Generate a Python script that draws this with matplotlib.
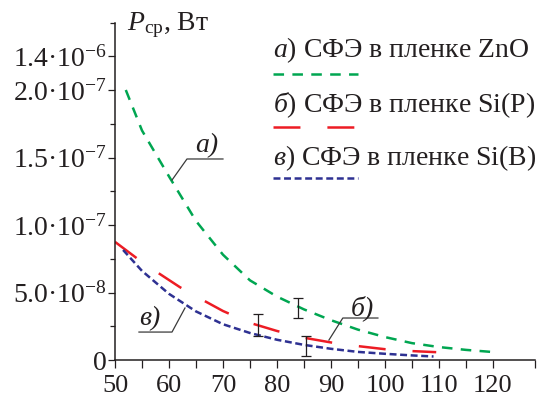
import matplotlib
matplotlib.use("Agg")
import matplotlib.pyplot as plt
from matplotlib.lines import Line2D
from matplotlib.ticker import FixedLocator

plt.rcParams['font.family'] = ['Liberation Serif', 'DejaVu Serif']
plt.rcParams['mathtext.fontset'] = 'custom'
plt.rcParams['mathtext.rm'] = 'Liberation Serif'
plt.rcParams['mathtext.it'] = 'Liberation Serif:italic'
plt.rcParams['mathtext.bf'] = 'Liberation Serif:bold'
plt.rcParams['lines.scale_dashes'] = False

# ---- data ----
x_zno = [52, 55, 60, 65, 70, 75, 80, 85, 90, 95, 100, 105, 110, 115, 120]
y_zno = [2.00e-7, 1.70e-7, 1.36e-7, 1.03e-7, 7.8e-8, 5.9e-8, 4.7e-8, 3.75e-8,
         2.95e-8, 2.25e-8, 1.7e-8, 1.25e-8, 9.6e-9, 7.5e-9, 5.9e-9]

x_sip = [50, 54, 58, 62, 66, 70, 75, 80, 85, 90, 95, 100, 105, 109.5]
y_sip = [8.75e-8, 7.55e-8, 6.45e-8, 5.4e-8, 4.5e-8, 3.63e-8, 2.75e-8, 2.15e-8,
         1.65e-8, 1.3e-8, 1.03e-8, 8.0e-9, 6.6e-9, 5.8e-9]

x_sib = [51.5, 55, 60, 65, 70, 75, 80, 85, 90, 95, 100, 105, 109]
y_sib = [8.15e-8, 6.6e-8, 4.9e-8, 3.6e-8, 2.65e-8, 2.0e-8, 1.5e-8, 1.12e-8,
         8.3e-9, 6.0e-9, 4.6e-9, 3.4e-9, 2.6e-9]

err_x = [76.5, 83.9, 85.4]
err_y = [2.6e-8, 3.85e-8, 1.04e-8]
err_e = [0.8e-8, 0.75e-8, 0.74e-8]

xtick_vals = [50, 60, 70, 80, 90, 100, 110, 120]
xtick_labels = ['50', '60', '70', '80', '90', '100', '110', '120']
ytick_vals = [0, 5.0e-8, 1.0e-7, 1.5e-7, 2.0e-7, 2.25e-7]
ytick_labels = ['0', '5.0·10$^{-8}$', '1.0·10$^{-7}$', '1.5·10$^{-7}$',
                '2.0·10$^{-7}$', '1.4·10$^{-6}$']

legend_labels = ['$\\mathit{а)}$ СФЭ в пленке ZnO',
                 '$\\mathit{б)}$ СФЭ в пленке Si(P)',
                 '$\\mathit{в)}$ СФЭ в пленке Si(B)']

TXT = '#231f20'
GREEN = '#00a651'
RED = '#ed1c24'
BLUE = '#2e3192'

W, H = 545, 404
fig = plt.figure(figsize=(W / 100, H / 100), dpi=100)
ax = fig.add_axes([115 / W, 1 - 360 / H, (535 - 115) / W, (360 - 22.5) / H])

styles = [dict(color=GREEN, lw=1.8, dashes=(7.6, 6.0)),
          dict(color=RED, lw=1.8, dashes=(19.4, 19.4)),
          dict(color=BLUE, lw=1.8, dashes=(5.0, 2.6))]

ax.plot(x_zno, y_zno, **styles[0])
ax.plot(x_sip, y_sip, **styles[1])
ax.plot(x_sib, y_sib, **styles[2])

ax.errorbar(err_x, err_y, yerr=err_e, fmt='none', ecolor=TXT, elinewidth=0.9,
            capsize=3.3, capthick=0.9)

ax.set_xlim(50, 127.8)
ax.set_ylim(0, 2.5e-7)

ax.set_xticks(xtick_vals)
ax.set_xticklabels(xtick_labels)
ax.xaxis.set_minor_locator(FixedLocator([55, 65, 75, 85, 95, 105, 115, 127.8]))
ax.set_yticks(ytick_vals)
ax.set_yticklabels(ytick_labels)
ax.yaxis.set_minor_locator(FixedLocator([2.5e-8, 7.5e-8, 1.25e-7, 1.75e-7, 2.5e-7]))

for s in ['top', 'right']:
    ax.spines[s].set_visible(False)
for s in ['left', 'bottom']:
    ax.spines[s].set_linewidth(1.1)
    ax.spines[s].set_color(TXT)

ax.tick_params(axis='x', which='both', direction='out', length=5.8, width=0.9,
               color=TXT, labelsize=19, labelcolor=TXT, pad=5)
ax.tick_params(axis='y', which='major', direction='out', length=5.0, width=0.9,
               color=TXT, labelsize=20, labelcolor=TXT, pad=1)
ax.tick_params(axis='y', which='minor', direction='out', length=3.6, width=0.9,
               color=TXT)

# curve labels with leader lines
leaders = [([60.56, 63.33, 70.0], [1.333e-7, 1.489e-7, 1.489e-7], 'а)', 67.0, 1.54e-7),
           ([89.63, 92.2, 98.7], [1.48e-8, 3.11e-8, 3.11e-8], 'б)', 95.9, 3.33e-8),
           ([62.96, 60.56, 54.44], [3.85e-8, 2.07e-8, 2.07e-8], 'в)', 56.5, 2.59e-8)]
for lx, ly, t, tx, ty in leaders:
    ax.plot(lx, ly, color='#3a3a3a', lw=0.9)
    ax.text(tx, ty, t, style='italic', fontsize=20, color=TXT,
            ha='center', va='baseline')

# y label
fig.text(127 / W, 1 - 30 / H, '$P_{\\mathrm{ср}}$, Вт', fontsize=20,
         color=TXT, ha='left', va='baseline')

# manual legend
rows = [(57, 74), (112, 127), (165, 178)]
for (tb, lyp), lab, st in zip(rows, legend_labels, styles):
    fig.text(273 / W, 1 - tb / H, lab, fontsize=20, color=TXT,
             ha='left', va='baseline')
    fig.add_artist(Line2D([273 / W, 358 / W], [1 - lyp / H, 1 - lyp / H],
                          transform=fig.transFigure, **st))

fig.savefig('out.png', dpi=100)
